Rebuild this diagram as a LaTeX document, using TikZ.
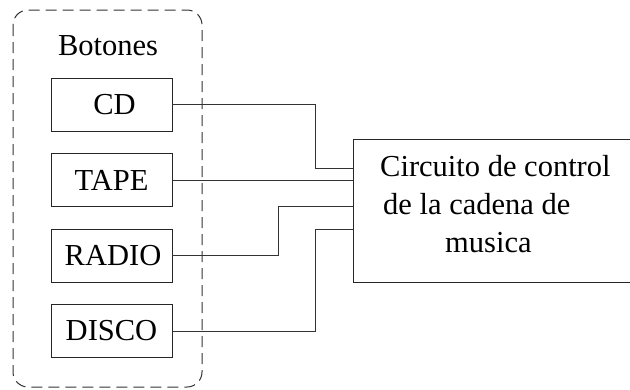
\documentclass[tikz,border=0pt]{standalone}
\usepackage{fontspec}
\setmainfont{Liberation Serif}
\begin{document}
\begin{tikzpicture}[x=1pt,y=-1pt,
  btn/.style={draw=black!85, line width=0.9pt, minimum width=121pt, minimum height=53pt, inner sep=0pt,
    font=\fontsize{30.5}{34}\selectfont},
  wire/.style={draw=black!80, line width=0.9pt},
  dashbox/.style={draw=black!80, line width=1pt, dash pattern=on 11pt off 6pt, rounded corners=15pt},
  lbl/.style={inner sep=0pt, font=\fontsize{30.5}{34}\selectfont}]
\useasboundingbox (0,0) rectangle (630,389);
\clip (0,0) rectangle (630,389);
\fill[white] (0,0) rectangle (630,389);
\draw[dashbox] (13,10) rectangle (202,387);
\node[lbl, anchor=base] (bot) at (108,55) {Botones};
\node[btn] (cd) at (111.5,104.5) {\hspace*{6pt}CD};
\node[btn] (tape) at (111.5,180) {TAPE};
\node[btn] (radio) at (111.5,255.5) {\hspace*{3pt}RADIO};
\node[btn] (disco) at (111.5,331) {DISCO};
\node[draw=black!85, line width=0.9pt, minimum width=320pt, minimum height=143pt, inner sep=0pt, anchor=north west] (ctrl) at (353,139) {};
\node[lbl, anchor=base west] (t1) at (380,176) {Circuito de control};
\node[lbl, anchor=base west] (t2) at (383,214) {de la cadena de};
\node[lbl, anchor=base west] (t3) at (445,252) {musica};
\draw[wire] (cd.east) -| (315,168) -- (ctrl.west |- 315,168);
\draw[wire] (tape.east) -- (ctrl.west |- tape.east);
\draw[wire] (radio.east) -| (278,206) -- (ctrl.west |- 278,206);
\draw[wire] (disco.east) -| (315,229) -- (ctrl.west |- 315,229);
\end{tikzpicture}
\end{document}
